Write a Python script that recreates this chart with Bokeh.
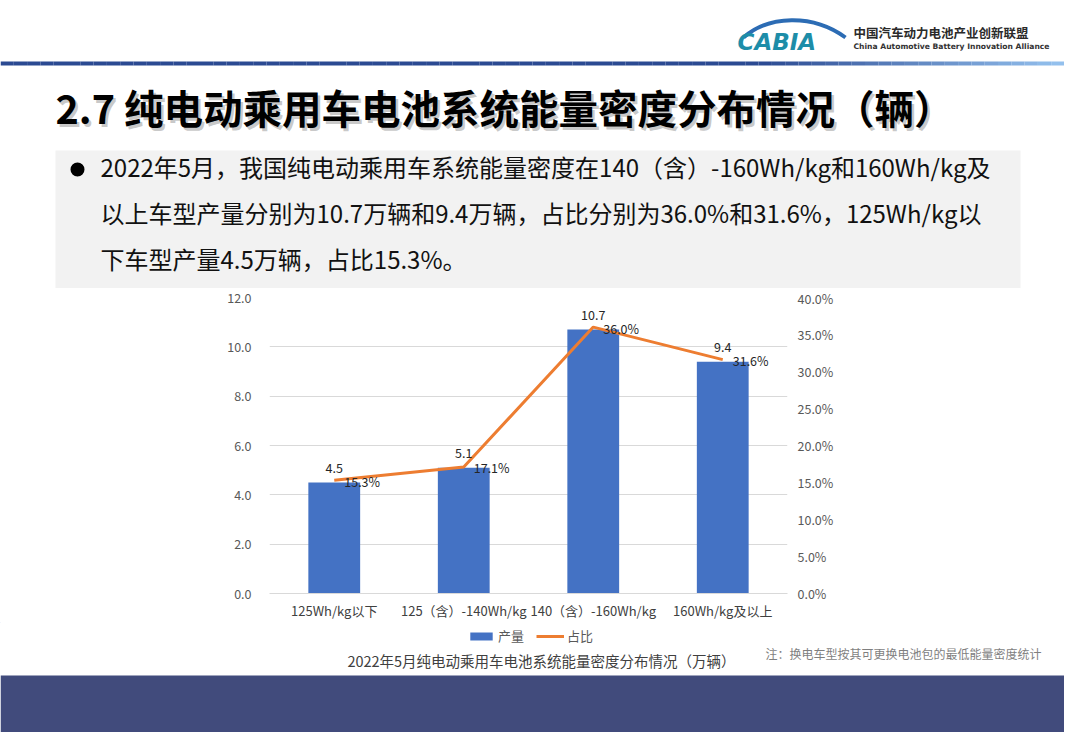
import numpy as np
from bokeh.plotting import figure
from bokeh.models import (Range1d, FactorRange, LinearAxis, FixedTicker, PrintfTickFormatter,
                          Legend, LegendItem, ColumnDataSource)
from bokeh.layouts import column
from bokeh.embed import file_html
from bokeh.resources import INLINE
from bokeh.core.properties import value

# ---------------- data ----------------
categories = ["125Wh/kg以下", "125（含）-140Wh/kg", "140（含）-160Wh/kg", "160Wh/kg及以上"]
production = [4.5, 5.1, 10.7, 9.4]      # 产量（万辆）
share = [15.3, 17.1, 36.0, 31.6]        # 占比（%）
left_ticks = [0, 2, 4, 6, 8, 10, 12]
right_ticks = [0, 5, 10, 15, 20, 25, 30, 35, 40]
legend_labels = ["产量", "占比"]

page_title = "2.7 纯电动乘用车电池系统能量密度分布情况（辆）"
summary_lines = [
    "2022年5月，我国纯电动乘用车系统能量密度在140（含）-160Wh/kg和160Wh/kg及",
    "以上车型产量分别为10.7万辆和9.4万辆，占比分别为36.0%和31.6%，125Wh/kg以",
    "下车型产量4.5万辆，占比15.3%。",
]
chart_title = "2022年5月纯电动乘用车电池系统能量密度分布情况（万辆）"
note_text = "注：换电车型按其可更换电池包的最低能量密度统计"
org_cn = "中国汽车动力电池产业创新联盟"
org_en = "China Automotive Battery Innovation Alliance"
logo_text = "CABIA"

FONT = "Noto Sans CJK SC"
W = 1064
BAR = "#4472C4"
LINE = "#ED7D31"


def blank(h, y_top, y_bottom):
    f = figure(width=W, height=h, x_range=Range1d(0, W), y_range=Range1d(y_bottom, y_top),
               output_backend="svg", toolbar_location=None, min_border=0,
               x_axis_location=None, y_axis_location=None, frame_align=False)
    f.grid.visible = False
    f.outline_line_color = None
    f.background_fill_color = "white"
    f.border_fill_color = "white"
    return f


# ---------------- header ----------------
H1 = 288
hd = blank(H1, 0, H1)

# gradient rule under the header
n = 80
xs = np.linspace(0, W, n + 1)
c0 = np.array([43, 74, 146])
c1 = np.array([150, 195, 240])
cols = []
for i in range(n):
    t = (xs[i] + xs[i + 1]) / 2
    u = min(1.0, max(0.0, (t - 760) / (W - 760)))
    c = (c0 + (c1 - c0) * u).astype(int)
    cols.append("#%02x%02x%02x" % tuple(c))
hd.quad(left=xs[:-1], right=xs[1:], top=61, bottom=65, fill_color=cols, line_color=None)

# logo
hd.bezier(x0=743, y0=37, x1=845, y1=37, cx0=768, cy0=15, cx1=812, cy1=13,
          line_color="#2C6CB4", line_width=4)
hd.text(x=[737], y=[41], text=[logo_text], text_font=value("DejaVu Sans"),
        text_font_style="bold italic", text_font_size="23px", text_color="#1D8DA8",
        text_baseline="middle")
hd.text(x=[853], y=[32], text=[org_cn], text_font=value(FONT), text_font_style="bold",
        text_font_size="12.5px", text_color="#2A2A2A", text_baseline="middle")
hd.text(x=[853], y=[45.5], text=[org_en], text_font=value("DejaVu Sans"), text_font_style="bold",
        text_font_size="7.6px", text_color="#333333", text_baseline="middle")

# title with soft shadow
hd.text(x=[57.5], y=[108.5], text=[page_title], text_font=value(FONT), text_font_style="bold",
        text_font_size="39.5px", text_color="#9A9A9A", text_alpha=0.55, text_baseline="middle")
hd.text(x=[55], y=[106], text=[page_title], text_font=value(FONT), text_font_style="bold",
        text_font_size="39.5px", text_color="#000000", text_baseline="middle")

# summary box
hd.quad(left=55, right=1020, top=150, bottom=288, fill_color="#F2F2F2", line_color=None)
hd.scatter(x=[77], y=[169], size=14, marker="circle", fill_color="#000000", line_color=None)
line_y = [166, 212, 258]
hd.text(x=[100] * 3, y=line_y, text=summary_lines, text_font=value(FONT),
        text_font_size="24px", text_color="#111111", text_baseline="middle")

# ---------------- chart ----------------
H2 = 334
src = ColumnDataSource(dict(
    cat=categories, prod=production, share=share,
    prod_lbl=[f"{v:.1f}" for v in production],
    share_lbl=[f"{v:.1f}%" for v in share],
))

p = figure(width=W, height=H2, x_range=FactorRange(*categories, range_padding=0),
           y_range=Range1d(left_ticks[0], left_ticks[-1]),
           output_backend="svg", toolbar_location=None, frame_align=False,
           min_border_left=269, min_border_right=W - 787, min_border_top=9, min_border_bottom=28)
p.outline_line_color = None
p.background_fill_color = "white"
p.border_fill_color = "white"
p.extra_y_ranges = {"pct": Range1d(right_ticks[0], right_ticks[-1])}

p.xgrid.visible = False
p.ygrid.grid_line_color = "#D9D9D9"
p.ygrid.grid_line_width = 1
p.yaxis.ticker = FixedTicker(ticks=left_ticks)

# left axis
p.yaxis.formatter = PrintfTickFormatter(format="%.1f")
p.yaxis.axis_line_color = None
p.yaxis.major_tick_line_color = None
p.yaxis.major_tick_out = 0
p.yaxis.minor_tick_line_color = None
p.yaxis.minor_tick_out = 0
p.yaxis.major_label_standoff = 18
p.yaxis.major_label_text_font = FONT
p.yaxis.major_label_text_font_size = "12.5px"
p.yaxis.major_label_text_color = "#595959"

# x axis
p.xaxis.axis_line_color = "#D9D9D9"
p.xaxis.axis_line_width = 1
p.xaxis.major_tick_line_color = None
p.xaxis.major_tick_out = 0
p.xaxis.minor_tick_line_color = None
p.xaxis.major_label_standoff = 7
p.xaxis.major_label_text_font = FONT
p.xaxis.major_label_text_font_size = "13px"
p.xaxis.major_label_text_color = "#404040"

# right axis
ra = LinearAxis(y_range_name="pct", ticker=FixedTicker(ticks=right_ticks),
                formatter=PrintfTickFormatter(format="%.1f%%"))
ra.axis_line_color = None
ra.major_tick_line_color = None
ra.major_tick_out = 0
ra.minor_tick_line_color = None
ra.minor_tick_out = 0
ra.major_label_standoff = 10
ra.major_label_text_font = FONT
ra.major_label_text_font_size = "12.5px"
ra.major_label_text_color = "#595959"
p.add_layout(ra, "right")

bars = p.vbar(x="cat", top="prod", width=0.4, source=src, fill_color=BAR, line_color=None)
ln = p.line(x="cat", y="share", y_range_name="pct", source=src, line_color=LINE, line_width=3)

p.text(x="cat", y="prod", text="prod_lbl", source=src, text_align="center",
       text_baseline="bottom", y_offset=-10, text_font=value(FONT),
       text_font_size="12.5px", text_color="#262626")
p.text(x="cat", y="share", text="share_lbl", source=src, y_range_name="pct",
       text_align="left", text_baseline="middle", x_offset=10, y_offset=1,
       text_font=value(FONT), text_font_size="12.5px", text_color="#262626")

# ---------------- footer (legend, caption, note, band) ----------------
H3 = 732 - H1 - H2
y0 = H1 + H2
ft = blank(H3, y0, 732)

# legend proxies (kept outside the visible range) reuse the chart's series styles
lg_bar = ft.vbar(x=[-500], top=[-500], bottom=[-501], width=1, fill_color=BAR, line_color=None)
lg_line = ft.line(x=[-500, -499], y=[-500, -500], line_color=LINE, line_width=3)
legend = Legend(items=[LegendItem(label=legend_labels[0], renderers=[lg_bar]),
                       LegendItem(label=legend_labels[1], renderers=[lg_line])],
                location=(467, 732 - 645), orientation="horizontal")
legend.border_line_color = None
legend.background_fill_alpha = 0
legend.label_text_font = FONT
legend.label_text_font_size = "13px"
legend.label_text_color = "#595959"
legend.glyph_width = 28
legend.glyph_height = 10
legend.label_height = 14
legend.label_standoff = 3
legend.spacing = 12
legend.padding = 0
legend.margin = 0
ft.add_layout(legend)

ft.text(x=[541], y=[660], text=[chart_title], text_font=value(FONT), text_font_size="14.5px",
        text_color="#404040", text_align="center", text_baseline="middle")
ft.text(x=[765], y=[653], text=[note_text], text_font=value(FONT), text_font_size="12px",
        text_color="#7F7F7F", text_baseline="middle")
ft.quad(left=0, right=W, top=675, bottom=732, fill_color="#414B7C", line_color=None)

layout = column(hd, p, ft, spacing=0)
open("out.html", "w").write(file_html(layout, INLINE))
